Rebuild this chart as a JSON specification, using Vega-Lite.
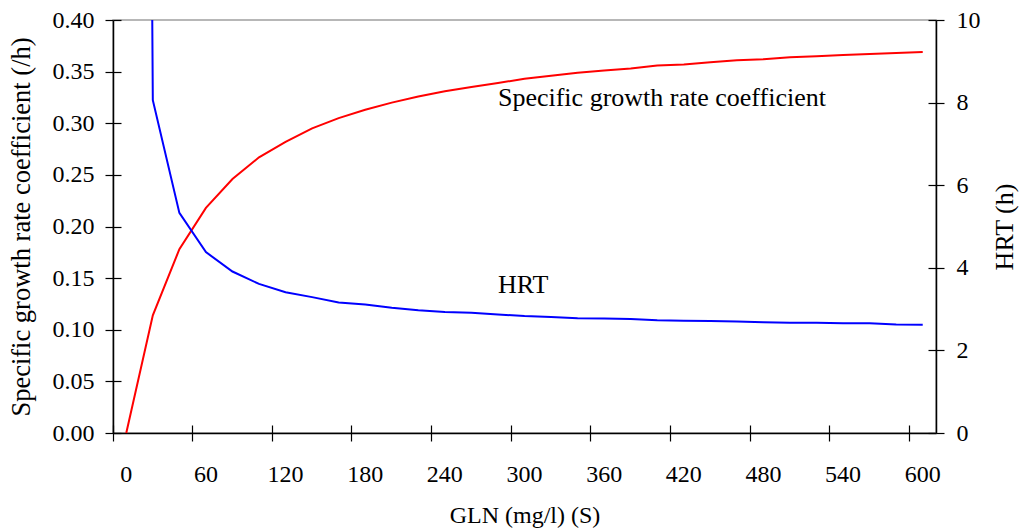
{
  "$schema": "https://vega.github.io/schema/vega-lite/v6.json",
  "width": 823,
  "height": 413,
  "autosize": {"type": "none"},
  "padding": {"left": 113, "top": 20, "right": 85, "bottom": 98},
  "background": "white",
  "config": {
    "view": {"stroke": "#a0a0a0", "strokeWidth": 1.5},
    "font": "Liberation Serif",
    "axis": {
      "labelFont": "Liberation Serif",
      "titleFont": "Liberation Serif",
      "labelColor": "black",
      "titleColor": "black",
      "labelFontSize": 24,
      "titleFontSize": 26,
      "titleFontWeight": "normal",
      "domainColor": "black",
      "domainWidth": 1.5,
      "tickColor": "black",
      "tickWidth": 1.2,
      "gridColor": "black",
      "gridWidth": 1.2,
      "gridOpacity": 1
    }
  },
  "data": {
    "values": [
      {"S": 0, "mu": 0.0, "HRT": 100},
      {"S": 20, "mu": 0.114, "HRT": 8.06},
      {"S": 40, "mu": 0.178, "HRT": 5.33},
      {"S": 60, "mu": 0.218, "HRT": 4.38},
      {"S": 80, "mu": 0.246, "HRT": 3.91},
      {"S": 100, "mu": 0.267, "HRT": 3.61},
      {"S": 120, "mu": 0.282, "HRT": 3.41},
      {"S": 140, "mu": 0.295, "HRT": 3.29},
      {"S": 160, "mu": 0.305, "HRT": 3.16},
      {"S": 180, "mu": 0.313, "HRT": 3.11},
      {"S": 200, "mu": 0.32, "HRT": 3.03},
      {"S": 220, "mu": 0.326, "HRT": 2.97},
      {"S": 240, "mu": 0.331, "HRT": 2.93},
      {"S": 260, "mu": 0.335, "HRT": 2.91},
      {"S": 280, "mu": 0.339, "HRT": 2.87},
      {"S": 300, "mu": 0.343, "HRT": 2.83},
      {"S": 320, "mu": 0.346, "HRT": 2.81},
      {"S": 340, "mu": 0.349, "HRT": 2.78},
      {"S": 360, "mu": 0.351, "HRT": 2.77},
      {"S": 380, "mu": 0.353, "HRT": 2.76},
      {"S": 400, "mu": 0.356, "HRT": 2.73},
      {"S": 420, "mu": 0.357, "HRT": 2.72},
      {"S": 440, "mu": 0.359, "HRT": 2.71},
      {"S": 460, "mu": 0.361, "HRT": 2.7},
      {"S": 480, "mu": 0.362, "HRT": 2.68},
      {"S": 500, "mu": 0.364, "HRT": 2.67},
      {"S": 520, "mu": 0.365, "HRT": 2.67},
      {"S": 540, "mu": 0.366, "HRT": 2.66},
      {"S": 560, "mu": 0.367, "HRT": 2.66},
      {"S": 580, "mu": 0.368, "HRT": 2.63},
      {"S": 600, "mu": 0.369, "HRT": 2.62}
    ]
  },
  "layer": [
    {
      "layer": [
        {
          "mark": {"type": "line", "color": "#ff0000", "strokeWidth": 2},
          "encoding": {
            "x": {
              "field": "S",
              "type": "ordinal",
              "scale": {"type": "band", "paddingInner": 0, "paddingOuter": 0},
              "bandPosition": 0.5,
              "title": "GLN (mg/l) (S)",
              "axis": {
                "values": [0, 60, 120, 180, 240, 300, 360, 420, 480, 540, 600],
                "bandPosition": 0,
                "labelAngle": 0,
                "tickSize": 8,
                "labelPadding": 21,
                "titleFontSize": 24,
                "titlePadding": 17,
                "grid": true,
                "gridDash": [0, 405, 8, 1000]
              }
            },
            "y": {
              "field": "mu",
              "type": "quantitative",
              "title": "Specific growth rate coefficient (/h)",
              "scale": {"domain": [0, 0.4], "nice": false},
              "axis": {
                "values": [0, 0.05, 0.1, 0.15, 0.2, 0.25, 0.3, 0.35, 0.4],
                "format": ".2f",
                "tickSize": 8,
                "labelPadding": 11,
                "titleFontSize": 26.5,
                "titlePadding": 17,
                "grid": true,
                "gridDash": [8, 2000]
              }
            }
          }
        },
        {
          "data": {"values": [{}]},
          "mark": {"type": "text", "align": "left", "baseline": "alphabetic", "fontSize": 26, "font": "Liberation Serif", "color": "black"},
          "encoding": {
            "x": {"datum": 280, "type": "ordinal", "title": "GLN (mg/l) (S)"},
            "y": {"datum": 0.317, "type": "quantitative", "title": "Specific growth rate coefficient (/h)"},
            "text": {"value": "Specific growth rate coefficient"}
          }
        },
        {
          "data": {"values": [{}]},
          "mark": {"type": "text", "align": "left", "baseline": "alphabetic", "fontSize": 26, "font": "Liberation Serif", "color": "black"},
          "encoding": {
            "x": {"datum": 280, "type": "ordinal", "title": "GLN (mg/l) (S)"},
            "y": {"datum": 0.136, "type": "quantitative", "title": "Specific growth rate coefficient (/h)"},
            "text": {"value": "HRT"}
          }
        }
      ]
    },
    {
      "mark": {"type": "line", "color": "#0000ff", "strokeWidth": 2, "clip": true},
      "encoding": {
        "x": {
          "field": "S",
          "type": "ordinal",
          "scale": {"type": "band", "paddingInner": 0, "paddingOuter": 0},
          "bandPosition": 0.5,
          "title": "GLN (mg/l) (S)",
          "axis": {
            "values": [0, 60, 120, 180, 240, 300, 360, 420, 480, 540, 600],
            "bandPosition": 0,
            "labelAngle": 0,
            "tickSize": 8,
            "labelPadding": 21,
            "titleFontSize": 24,
            "titlePadding": 17,
            "grid": true,
            "gridDash": [0, 405, 8, 1000]
          }
        },
        "y": {
          "field": "HRT",
          "type": "quantitative",
          "title": "HRT (h)",
          "scale": {"domain": [0, 10], "nice": false},
          "axis": {
            "orient": "right",
            "values": [0, 2, 4, 6, 8, 10],
            "tickSize": 8,
            "labelPadding": 12,
            "titleAngle": 270,
            "titleBaseline": "top",
            "titlePadding": 11,
            "grid": true,
            "gridDash": [8, 2000]
          }
        }
      }
    }
  ],
  "resolve": {"scale": {"y": "independent"}}
}
